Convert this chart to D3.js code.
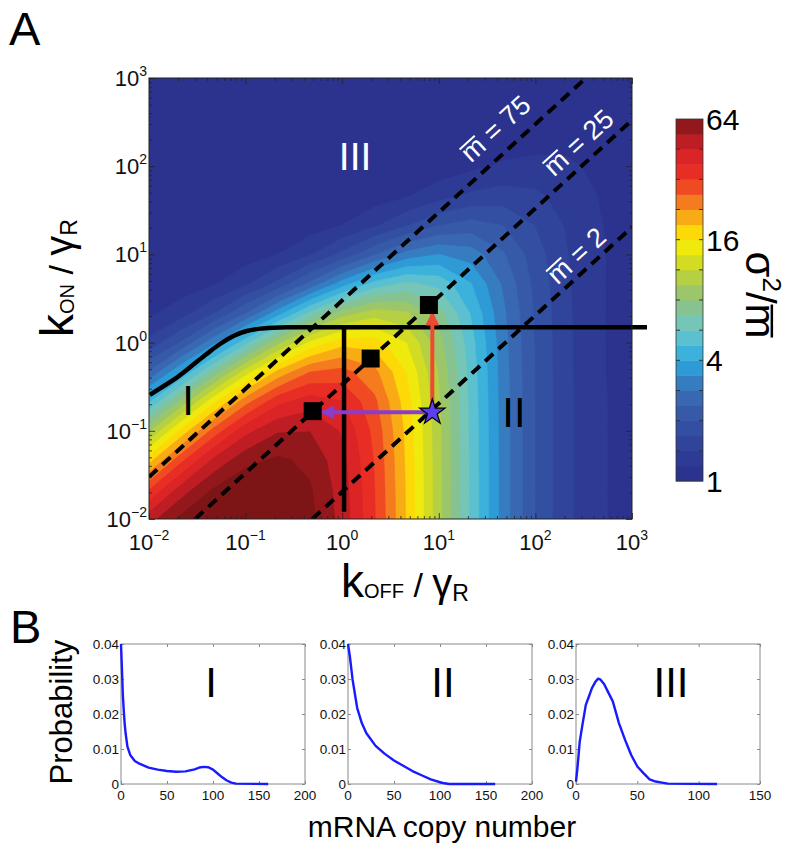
<!DOCTYPE html>
<html><head><meta charset="utf-8">
<script src="https://cdn.jsdelivr.net/npm/d3@7"></script>
<style>
body{margin:0;background:#fff;}
svg{display:block;font-family:"Liberation Sans",Arial,Helvetica,sans-serif;}
</style></head><body>
<svg id="chart" width="790" height="853"></svg>
<script>
// ---------------- DATA ----------------
// grid of k_OFF / gamma_R (columns) and k_ON / gamma_R (rows), third-decade steps
const gridKoff = [0.01, 0.0215, 0.0464, 0.1, 0.215, 0.464, 1, 2.15, 4.64, 10, 21.5, 46.4, 100, 215, 464, 1000];
const gridKon  = [0.01, 0.0215, 0.0464, 0.1, 0.215, 0.464, 1, 2.15, 4.64, 10, 21.5, 46.4, 100, 215, 464, 1000];
// Fano factor sigma^2 / mean, one row per k_ON value (bottom to top)
const fanoRows = [
  [50.0, 67.2, 78.9, 82.9, 79.0, 67.4, 50.3, 32.5, 18.7, 10.07, 5.44, 3.11, 1.99, 1.46, 1.22, 1.10],
  [31.8, 48.9, 65.0, 74.4, 74.5, 65.3, 49.4, 32.2, 18.6, 10.05, 5.44, 3.11, 1.99, 1.46, 1.22, 1.10],
  [17.8, 30.7, 46.8, 60.6, 66.2, 61.2, 47.7, 31.6, 18.4, 10.0, 5.43, 3.11, 1.99, 1.46, 1.22, 1.10],
  [9.19, 16.8, 28.6, 42.7, 52.9, 53.6, 44.3, 30.4, 18.1, 9.92, 5.40, 3.10, 1.99, 1.46, 1.22, 1.10],
  [4.63, 8.35, 15.1, 25.1, 36.0, 41.7, 38.2, 28.0, 17.3, 9.73, 5.36, 3.09, 1.99, 1.46, 1.22, 1.10],
  [2.43, 3.98, 7.02, 12.3, 19.9, 26.9, 28.7, 23.8, 15.9, 9.34, 5.26, 3.07, 1.98, 1.46, 1.21, 1.10],
  [1.49, 2.04, 3.17, 5.33, 8.99, 13.9, 17.7, 17.4, 13.4, 8.58, 5.07, 3.02, 1.97, 1.46, 1.21, 1.10],
  [1.15, 1.31, 1.66, 2.37, 3.70, 5.91, 8.65, 10.4, 9.77, 7.26, 4.69, 2.93, 1.95, 1.45, 1.21, 1.10],
  [1.04, 1.08, 1.17, 1.37, 1.76, 2.49, 3.67, 5.06, 5.86, 5.37, 4.03, 2.75, 1.90, 1.44, 1.21, 1.10],
  [1.01, 1.02, 1.04, 1.09, 1.19, 1.39, 1.76, 2.35, 3.03, 3.38, 3.10, 2.43, 1.82, 1.42, 1.21, 1.10],
  [1.00, 1.00, 1.01, 1.02, 1.04, 1.09, 1.19, 1.37, 1.65, 1.98, 2.14, 1.99, 1.67, 1.38, 1.20, 1.10],
  [1.00, 1.00, 1.00, 1.00, 1.01, 1.02, 1.04, 1.09, 1.17, 1.31, 1.46, 1.53, 1.46, 1.31, 1.18, 1.09],
  [1.00, 1.00, 1.00, 1.00, 1.00, 1.00, 1.01, 1.02, 1.04, 1.08, 1.14, 1.22, 1.25, 1.22, 1.15, 1.08],
  [1.00, 1.00, 1.00, 1.00, 1.00, 1.00, 1.00, 1.00, 1.01, 1.02, 1.04, 1.07, 1.10, 1.12, 1.10, 1.07],
  [1.00, 1.00, 1.00, 1.00, 1.00, 1.00, 1.00, 1.00, 1.00, 1.00, 1.01, 1.02, 1.03, 1.05, 1.05, 1.05],
  [1.00, 1.00, 1.00, 1.00, 1.00, 1.00, 1.00, 1.00, 1.00, 1.00, 1.00, 1.00, 1.01, 1.01, 1.02, 1.02]
];
// contour levels (log2 of Fano factor) and colormap
const levelsLog2 = d3.range(0, 6.001, 0.25);
const colormapStops = ["#2b2f8c", "#2f3f98", "#3454a4", "#3a6db5", "#2aaae2", "#6cc7c9", "#8ec27e",
                       "#c3d52f", "#fff100", "#f7941d", "#ee3124", "#d42027", "#7d1517"];
const colorbarTicks = [1, 4, 16, 64];

// constant-mean lines: k_ON / k_OFF ratio
const meanLabels = ["75", "25", "2"];
const meanRatios = [3, 0.333, 0.0204];
const meanLabelKoff = [38.2, 276, 263];
const meanLabelKon = [271, 188, 9.84];

// region boundary (thick black)
const boundaryKoff = [0.0102, 0.013, 0.0179, 0.0266, 0.0395, 0.0543, 0.0746, 0.1026, 0.141, 0.194, 0.266, 1429];
const boundaryKon  = [0.2547, 0.303, 0.377, 0.525, 0.743, 0.964, 1.19, 1.354, 1.44, 1.476, 1.49, 1.49];
const dividerKoff = [1.045, 1.045];
const dividerKon = [1.49, 0.0121];

// markers
const squareKoff = [0.495, 1.97, 7.9];
const squareKon = [0.167, 0.66, 2.67];
const starKoff = 8.57, starKon = 0.162;
const arrowRedTipKon = 2.17;
const arrowPurpleTipKoff = 0.614;

// region labels
const regionLabels = ["III", "I", "II"];
const regionKoff = [1.36, 0.0254, 60];
const regionKon = [90.6, 0.151, 0.110];

// panel B distributions
const distI_n = [0,1,2,3,4,5,7,10,15,20,30,40,50,60,70,80,85,90,95,100,105,110,115,120,125,160];
const distI_p = [0.0400,0.0330,0.0255,0.0210,0.0172,0.0145,0.0107,0.0083,0.0066,0.0058,0.0047,0.0041,0.0037,0.0035,0.0036,0.0042,0.0047,0.0049,0.0048,0.0041,0.0030,0.0019,0.0010,0.0004,0.0001,0.0000];
const distII_n = [0,2,5,10,15,20,30,40,50,60,70,80,90,100,105,110,160];
const distII_p = [0.0400,0.0365,0.0298,0.0217,0.0174,0.0145,0.0109,0.0086,0.0067,0.0052,0.0037,0.0025,0.0013,0.0005,0.0002,0.0000,0.0000];
const distIII_n = [0,1,2,3,5,8,10,13,16,18,20,23,26,30,35,40,45,50,55,60,65,70,75,115];
const distIII_p = [0.0007,0.0040,0.0078,0.0120,0.0164,0.0226,0.0245,0.0274,0.0293,0.0301,0.0298,0.0285,0.0264,0.0236,0.0174,0.0126,0.0083,0.0050,0.0031,0.0013,0.0007,0.0004,0.0001,0.0000];
const distLabels = ["I", "II", "III"];
const distXmax = [200, 200, 150];
const distXticks = [[0,50,100,150,200],[0,50,100,150,200],[0,50,100,150]];
const probTicks = [0, 0.01, 0.02, 0.03, 0.04];
const decades = [-2, -1, 0, 1, 2, 3];

// ---------------- DRAW ----------------
const svg = d3.select("#chart");
const P = {x0: 149, x1: 632, y0: 78, y1: 519};
const x = d3.scaleLog().domain([0.01, 1000]).range([P.x0, P.x1]);
const y = d3.scaleLog().domain([0.01, 1000]).range([P.y1, P.y0]);

const cmap = d3.scaleLinear()
  .domain(colormapStops.map((c, i) => i / (colormapStops.length - 1)))
  .range(colormapStops).interpolate(d3.interpolateRgb).clamp(true);
const levelColor = t => cmap(Math.min(1, (t + 0.125) / 6));

const defs = svg.append("defs");
defs.append("clipPath").attr("id", "plotClip")
  .append("rect").attr("x", P.x0).attr("y", P.y0).attr("width", P.x1 - P.x0).attr("height", P.y1 - P.y0);

// contour field
const nG = gridKoff.length;
const logVals = fanoRows.flat().map(v => Math.log2(v));
const contours = d3.contours().size([nG, gridKon.length]).thresholds(levelsLog2)(logVals);
const gx = d3.scaleLinear().domain([0.5, nG - 0.5]).range([x(gridKoff[0]), x(gridKoff[nG - 1])]);
const gy = d3.scaleLinear().domain([0.5, gridKon.length - 0.5]).range([y(gridKon[0]), y(gridKon[gridKon.length - 1])]);
const gpath = d3.geoPath(d3.geoTransform({point(px, py) { this.stream.point(gx(px), gy(py)); }}));

const field = svg.append("g").attr("clip-path", "url(#plotClip)");
field.append("rect").attr("x", P.x0).attr("y", P.y0).attr("width", P.x1 - P.x0).attr("height", P.y1 - P.y0)
  .attr("fill", levelColor(0));
field.selectAll("path.c").data(contours).join("path").attr("class", "c")
  .attr("d", gpath).attr("fill", d => levelColor(d.value)).attr("stroke", d => levelColor(d.value)).attr("stroke-width", 0.6);

// dashed constant-mean lines
const ov = svg.append("g").attr("clip-path", "url(#plotClip)");
meanRatios.forEach(r => {
  const bA = Math.max(0.01, 0.01 / r), bB = Math.min(1000, 1000 / r);
  ov.append("line").attr("x1", x(bA)).attr("y1", y(bA * r)).attr("x2", x(bB)).attr("y2", y(bB * r))
    .attr("stroke", "#000").attr("stroke-width", 4).attr("stroke-dasharray", "11,7");
});

// helper: draw an overline above character idx of a text element (inside parent group)
function overline(parent, textSel, idx, gap, color, width) {
  const node = textSel.node();
  const ext = node.getExtentOfChar(idx);
  const base = +textSel.attr("y");
  const fs = +textSel.attr("font-size");
  const yy = base - 0.52 * fs - gap;
  parent.append("line").attr("x1", ext.x + 1).attr("x2", ext.x + ext.width - 1)
    .attr("y1", yy).attr("y2", yy).attr("stroke", color).attr("stroke-width", width);
}

// mean labels
const angle = -Math.atan((y(0.01) - y(0.1)) / (x(0.1) - x(0.01))) * 180 / Math.PI;
meanLabels.forEach((lab, i) => {
  const g = svg.append("g").attr("transform", `translate(${x(meanLabelKoff[i])},${y(meanLabelKon[i])}) rotate(${angle})`);
  const t = g.append("text").attr("x", 0).attr("y", 10).attr("text-anchor", "middle")
    .attr("fill", "#fff").attr("font-size", 27).text("m = " + lab);
  overline(g, t, 0, 4, "#fff", 2);
});

// thick boundaries
const line = d3.line().curve(d3.curveMonotoneX);
svg.append("path").attr("d", line(boundaryKoff.map((b, i) => [x(b), y(boundaryKon[i])])))
  .attr("fill", "none").attr("stroke", "#000").attr("stroke-width", 4.5);
svg.append("path").attr("d", d3.line()(dividerKoff.map((b, i) => [x(b), y(dividerKon[i])])))
  .attr("fill", "none").attr("stroke", "#000").attr("stroke-width", 4.5);

// arrows
[["arRed", "#ee4a32"], ["arPur", "#8a3ccf"]].forEach(([id, c]) => {
  defs.append("marker").attr("id", id).attr("viewBox", "0 0 10 10").attr("refX", 9).attr("refY", 5)
    .attr("markerUnits", "userSpaceOnUse").attr("markerWidth", 17).attr("markerHeight", 14).attr("orient", "auto")
    .append("path").attr("d", "M0,0 L10,5 L0,10 z").attr("fill", c);
});
svg.append("line").attr("x1", x(starKoff)).attr("y1", y(starKon)).attr("x2", x(starKoff)).attr("y2", y(arrowRedTipKon))
  .attr("stroke", "#ee4a32").attr("stroke-width", 4).attr("marker-end", "url(#arRed)");
svg.append("line").attr("x1", x(starKoff)).attr("y1", y(starKon)).attr("x2", x(arrowPurpleTipKoff)).attr("y2", y(starKon))
  .attr("stroke", "#8a3ccf").attr("stroke-width", 4).attr("marker-end", "url(#arPur)");

// squares
svg.selectAll("path.sq").data(squareKoff).join("path").attr("class", "sq")
  .attr("transform", (d, i) => `translate(${x(d)},${y(squareKon[i])})`)
  .attr("d", d3.symbol(d3.symbolSquare, 324)).attr("fill", "#000");
// star
svg.append("path").attr("transform", `translate(${x(starKoff)},${y(starKon)})`)
  .attr("d", d3.symbol(d3.symbolStar, 200)).attr("fill", "#5a3ff0").attr("stroke", "#000").attr("stroke-width", 1.2);

// region labels
regionLabels.forEach((lab, i) => {
  svg.append("text").attr("x", x(regionKoff[i])).attr("y", y(regionKon[i])).attr("text-anchor", "middle")
    .attr("font-size", lab === "III" ? 39 : 42).attr("fill", lab === "III" ? "#fff" : "#000").text(lab);
});

// frame and ticks
svg.append("rect").attr("x", P.x0).attr("y", P.y0).attr("width", P.x1 - P.x0).attr("height", P.y1 - P.y0)
  .attr("fill", "none").attr("stroke", "#222").attr("stroke-width", 1);
const majors = decades.map(e => Math.pow(10, e));
const minors = [];
decades.slice(0, -1).forEach(e => { for (let k = 2; k <= 9; k++) minors.push(k * Math.pow(10, e)); });
function ticks(gen, vals, len, transform) {
  const g = svg.append("g").attr("transform", transform)
    .call(gen.tickValues(vals).tickSizeInner(-len).tickSizeOuter(0).tickFormat(""));
  g.select(".domain").remove();
  g.selectAll("line").attr("stroke", "#222").attr("stroke-width", 0.8);
}
ticks(d3.axisBottom(x), majors, 6, `translate(0,${P.y1})`);
ticks(d3.axisBottom(x), minors, 3, `translate(0,${P.y1})`);
ticks(d3.axisTop(x), majors, 6, `translate(0,${P.y0})`);
ticks(d3.axisTop(x), minors, 3, `translate(0,${P.y0})`);
ticks(d3.axisLeft(y), majors, 6, `translate(${P.x0},0)`);
ticks(d3.axisLeft(y), minors, 3, `translate(${P.x0},0)`);
ticks(d3.axisRight(y), majors, 6, `translate(${P.x1},0)`);
ticks(d3.axisRight(y), minors, 3, `translate(${P.x1},0)`);

function powLabel(t, e) {
  t.append("tspan").text("10");
  t.append("tspan").attr("dy", -10).attr("font-size", 14).text(e < 0 ? "\u2212" + (-e) : String(e));
}
decades.forEach(e => {
  const v = Math.pow(10, e);
  powLabel(svg.append("text").attr("x", x(v)).attr("y", 550).attr("text-anchor", "middle").attr("font-size", 22).attr("fill", "#111"), e);
  powLabel(svg.append("text").attr("x", 147).attr("y", y(v) + 8).attr("text-anchor", "end").attr("font-size", 22).attr("fill", "#111"), e);
});

// axis titles
const xt = svg.append("text").attr("x", 405).attr("y", 597).attr("text-anchor", "middle").attr("fill", "#000");
xt.append("tspan").attr("font-size", 46).text("k");
xt.append("tspan").attr("font-size", 20).attr("dy", 1).text("OFF");
xt.append("tspan").attr("font-size", 34).attr("dy", -1).text(" / ");
xt.append("tspan").attr("font-size", 40).text("\u03b3");
xt.append("tspan").attr("font-size", 23).attr("dy", 4).text("R");

const yt = svg.append("text").attr("transform", "translate(73,278) rotate(-90)").attr("text-anchor", "middle").attr("fill", "#000");
yt.append("tspan").attr("font-size", 46).text("k");
yt.append("tspan").attr("font-size", 20).attr("dy", 1).text("ON");
yt.append("tspan").attr("font-size", 34).attr("dy", -1).text(" / ");
yt.append("tspan").attr("font-size", 40).text("\u03b3");
yt.append("tspan").attr("font-size", 23).attr("dy", 4).text("R");

// colorbar
const CB = {x0: 676, x1: 703, top: 119, bottom: 481};
const cb = d3.scaleLog().base(2).domain([1, 64]).range([CB.bottom, CB.top]);
const cbg = svg.append("g");
levelsLog2.slice(0, -1).forEach(t => {
  cbg.append("rect").attr("x", CB.x0).attr("width", CB.x1 - CB.x0)
    .attr("y", cb(Math.pow(2, t + 0.25))).attr("height", cb(Math.pow(2, t)) - cb(Math.pow(2, t + 0.25)) + 0.5)
    .attr("fill", levelColor(t));
});
cbg.append("rect").attr("x", CB.x0).attr("y", CB.top).attr("width", CB.x1 - CB.x0).attr("height", CB.bottom - CB.top)
  .attr("fill", "none").attr("stroke", "#333").attr("stroke-width", 0.8);
const cbMinor = d3.range(1, 12).map(k => Math.pow(2, k / 2));
cbMinor.forEach(v => {
  cbg.append("line").attr("x1", CB.x0).attr("x2", CB.x0 + 4).attr("y1", cb(v)).attr("y2", cb(v)).attr("stroke", "#333");
  cbg.append("line").attr("x1", CB.x1 - 4).attr("x2", CB.x1).attr("y1", cb(v)).attr("y2", cb(v)).attr("stroke", "#333");
});
colorbarTicks.forEach(v => {
  svg.append("text").attr("x", 706).attr("y", cb(v) + 11).attr("font-size", 30).attr("fill", "#000").text(v);
});
const ctg = svg.append("g").attr("transform", "translate(746,295) rotate(90)");
const ct = ctg.append("text").attr("x", 0).attr("y", 0).attr("text-anchor", "middle").attr("font-size", 42).attr("fill", "#000");
ct.append("tspan").text("\u03c3");
ct.append("tspan").attr("font-size", 26).attr("dy", -17).text("2");
ct.append("tspan").attr("dy", 17).text("/m");
overline(ctg, ct, 3, 4, "#000", 2.5);

// panel letters
svg.append("text").attr("x", 9).attr("y", 45).attr("font-size", 47).attr("fill", "#000").text("A");
svg.append("text").attr("x", 10).attr("y", 643).attr("font-size", 47).attr("fill", "#000").text("B");

// panel B
const BY = {top: 644, bottom: 784};
const BX = [[121, 305], [348, 532], [576, 760]];
const dists = [[distI_n, distI_p], [distII_n, distII_p], [distIII_n, distIII_p]];
const py = d3.scaleLinear().domain([0, 0.04]).range([BY.bottom, BY.top]);
BX.forEach((bx, k) => {
  const px = d3.scaleLinear().domain([0, distXmax[k]]).range(bx);
  const g = svg.append("g");
  g.append("rect").attr("x", bx[0]).attr("y", BY.top).attr("width", bx[1] - bx[0]).attr("height", BY.bottom - BY.top)
    .attr("fill", "#fff").attr("stroke", "#8a8a8a").attr("stroke-width", 1);
  const tk = (gen, vals, tr) => {
    const a = g.append("g").attr("transform", tr).call(gen.tickValues(vals).tickSizeInner(-3).tickSizeOuter(0).tickFormat(""));
    a.select(".domain").remove(); a.selectAll("line").attr("stroke", "#8a8a8a");
  };
  tk(d3.axisBottom(px), distXticks[k], `translate(0,${BY.bottom})`);
  tk(d3.axisTop(px), distXticks[k], `translate(0,${BY.top})`);
  tk(d3.axisLeft(py), probTicks, `translate(${bx[0]},0)`);
  tk(d3.axisRight(py), probTicks, `translate(${bx[1]},0)`);
  distXticks[k].forEach(v => g.append("text").attr("x", px(v)).attr("y", 800).attr("text-anchor", "middle")
    .attr("font-size", 13.5).attr("fill", "#111").text(v));
  probTicks.forEach(v => g.append("text").attr("x", bx[0] - 2).attr("y", py(v) + 5).attr("text-anchor", "end")
    .attr("font-size", 13.5).attr("fill", "#111").text(v === 0 ? "0" : v.toFixed(2)));
  const [nn, pp] = dists[k];
  g.append("path").attr("d", d3.line()(nn.map((n, i) => [px(n), py(pp[i])])))
    .attr("fill", "none").attr("stroke", "#1a1aff").attr("stroke-width", 2.4).attr("stroke-linejoin", "round");
  g.append("text").attr("x", (bx[0] + bx[1]) / 2 + (k === 0 ? -2 : 3)).attr("y", 697).attr("text-anchor", "middle")
    .attr("font-size", 42).attr("fill", "#000").text(distLabels[k]);
});
svg.append("text").attr("transform", "translate(72,712) rotate(-90)").attr("text-anchor", "middle")
  .attr("font-size", 31).attr("fill", "#000").text("Probability");
svg.append("text").attr("x", 442).attr("y", 837).attr("text-anchor", "middle")
  .attr("font-size", 30).attr("fill", "#000").text("mRNA copy number");
</script>
</body></html>
